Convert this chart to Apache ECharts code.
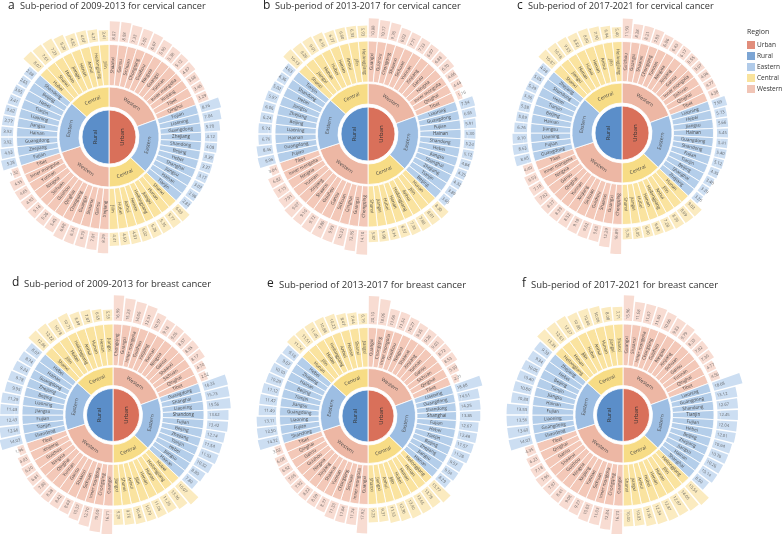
<!DOCTYPE html>
<html><head><meta charset="utf-8">
<style>html,body{margin:0;padding:0;background:#fff}#c{width:784px;height:534px}</style>
<script src="https://cdn.jsdelivr.net/npm/echarts@6/dist/echarts.min.js"></script>
</head><body><div id="c"></div>
<script>
// ---------- data (clockwise from 12 o'clock for urban, from 6 o'clock for rural) ----------
const regionNames = ['Western','Eastern','Central'];
const urbanRegionCounts = [12,11,8];
const ruralRegionCounts = [12,10,8];
const legendNames = ['Urban','Rural','Eastern','Central','Western'];

const aUrbanNames = ['Shaanxi','Gansu','Sichuan','Chongqing','Guizhou','Ningxia','Guangxi','Yunnan','Inner mongolia','Xinjiang','Tibet','Qinghai','Fujian','Liaoning','Guangdong','Zhejiang','Shandong','Beijing','Hebei','Shanghai','Jiangsu','Hainan','Tianjin','Shanxi','Hunan','Jiangxi','Heilongjiang','Henan','Anhui','Hubei','Jilin'];
const aUrbanValues = [8.07,8.03,7.33,7.00,6.67,5.95,5.38,5.12,4.87,3.68,3.46,3.29,8.16,7.04,5.70,4.12,4.08,3.39,3.37,3.17,3.07,2.96,2.83,6.03,5.77,5.35,5.26,5.02,4.81,4.50,4.41];
const aRuralNames = ['Xinjiang','Gansu','Shaanxi','Guangxi','Chongqing','Qinghai','Guizhou','Sichuan','Ningxia','Yunnan','Inner mongolia','Tibet','Fujian','Zhejiang','Guangdong','Hainan','Jiangsu','Liaoning','Tianjin','Hebei','Beijing','Shandong','Hubei','Shanxi','Hunan','Jiangxi','Henan','Anhui','Heilongjiang','Jilin'];
const aRuralValues = [8.29,7.01,6.79,6.74,6.68,5.45,5.26,5.14,4.93,4.65,4.55,1.32,5.28,4.53,3.92,3.92,3.77,3.62,3.41,3.05,2.65,2.88,8.07,7.61,7.23,6.20,4.82,4.67,4.21,3.41];

const bUrbanNames = ['Guangxi','Guizhou','Chongqing','Shaanxi','Sichuan','Yunnan','Xinjiang','Gansu','Ningxia','Inner mongolia','Qinghai','Tibet','Liaoning','Guangdong','Fujian','Hainan','Shandong','Hebei','Jiangsu','Shanghai','Zhejiang','Tianjin','Beijing','Hunan','Jilin','Anhui','Heilongjiang','Henan','Hubei','Jiangxi','Shanxi'];
const bUrbanValues = [10.88,10.17,9.70,8.02,7.71,7.33,6.97,6.88,6.70,4.86,4.44,1.16,7.54,6.85,5.91,5.30,5.24,5.12,4.84,4.35,4.32,3.89,3.65,8.30,8.01,7.88,7.33,6.57,6.14,5.98,5.87];
const bRuralNames = ['Chongqing','Guangxi','Qinghai','Sichuan','Gansu','Guizhou','Shaanxi','Xinjiang','Yunnan','Ningxia','Inner mongolia','Tibet','Fujian','Guangdong','Hainan','Liaoning','Beijing','Zhejiang','Jiangsu','Hebei','Shandong','Tianjin','Shanxi','Jiangxi','Hunan','Hubei','Henan','Anhui','Jilin','Heilongjiang'];
const bRuralValues = [14.10,12.35,10.23,9.95,9.86,9.72,9.10,9.07,7.91,7.15,6.82,3.04,8.96,8.46,6.76,6.74,6.24,6.06,5.97,5.02,4.36,4.63,10.13,9.26,9.01,8.19,6.77,6.60,6.33,5.93];

const cUrbanNames = ['Guizhou','Guangxi','Shaanxi','Chongqing','Yunnan','Ningxia','Xinjiang','Gansu','Inner mongolia','Sichuan','Qinghai','Tibet','Liaoning','Hebei','Jiangsu','Hainan','Guangdong','Shandong','Fujian','Tianjin','Beijing','Shanghai','Zhejiang','Hunan','Jilin','Anhui','Heilongjiang','Henan','Hubei','Jiangxi','Shanxi'];
const cUrbanValues = [11.90,8.28,8.21,7.83,6.86,6.43,6.17,5.55,5.07,4.96,4.77,4.38,7.59,5.73,5.66,5.45,5.41,5.40,5.12,4.35,3.40,3.29,3.26,9.03,8.69,8.36,7.28,6.69,6.30,6.05,5.75];
const cRuralNames = ['Chongqing','Guangxi','Shaanxi','Guizhou','Sichuan','Xinjiang','Yunnan','Qinghai','Gansu','Ningxia','Inner mongolia','Tibet','Guangdong','Fujian','Liaoning','Jiangsu','Hainan','Beijing','Tianjin','Hebei','Shandong','Zhejiang','Shanxi','Jiangxi','Hunan','Hubei','Henan','Anhui','Jilin','Heilongjiang'];
const cRuralValues = [16.89,12.29,9.65,9.62,9.18,8.52,8.39,8.37,7.82,7.18,6.53,4.40,8.65,8.63,8.10,6.76,5.89,5.38,5.36,5.29,5.05,4.98,10.87,10.18,9.55,8.83,8.80,7.90,6.94,5.40];

const dUrbanNames = ['Chongqing','Guangxi','Inner mongolia','Guizhou','Xinjiang','Yunnan','Ningxia','Gansu','Shaanxi','Sichuan','Qinghai','Tibet','Guangdong','Shanghai','Liaoning','Shandong','Fujian','Beijing','Zhejiang','Tianjin','Hebei','Jiangsu','Hainan','Hubei','Heilongjiang','Hunan','Henan','Jilin','Anhui','Shanxi','Jiangxi'];
const dUrbanValues = [16.99,15.23,14.06,13.51,10.57,9.18,9.05,8.57,8.55,8.17,4.70,2.52,16.33,15.73,15.56,13.62,13.42,12.14,11.54,11.53,10.32,8.80,7.80,16.07,13.36,11.26,11.06,10.79,10.48,9.76,9.29];
const dRuralNames = ['Guangxi','Chongqing','Inner mongolia','Sichuan','Shaanxi','Gansu','Yunnan','Qinghai','Ningxia','Guizhou','Xinjiang','Tibet','Shandong','Tianjin','Fujian','Jiangsu','Liaoning','Beijing','Zhejiang','Guangdong','Hainan','Hebei','Shanxi','Jilin','Hubei','Heilongjiang','Anhui','Hunan','Henan','Jiangxi'];
const dRuralValues = [16.71,15.60,12.70,10.37,8.63,8.42,8.28,7.80,6.81,6.20,4.93,1.96,14.03,12.56,12.43,11.43,11.29,9.95,9.78,9.24,8.74,8.07,12.86,12.22,10.78,10.71,8.49,7.87,6.55,5.55];

const eUrbanNames = ['Guangxi','Chongqing','Inner mongolia','Guizhou','Ningxia','Shaanxi','Xinjiang','Yunnan','Gansu','Sichuan','Qinghai','Tibet','Liaoning','Guangdong','Shandong','Shanghai','Fujian','Hebei','Tianjin','Beijing','Zhejiang','Jiangsu','Hainan','Heilongjiang','Henan','Hunan','Hubei','Jilin','Anhui','Jiangxi','Shanxi'];
const eUrbanValues = [20.10,18.06,11.66,11.54,10.27,9.35,9.26,9.03,8.72,8.53,5.50,2.31,18.68,14.51,14.25,13.85,12.67,12.48,11.57,11.28,9.57,9.54,8.29,15.77,13.78,13.65,13.40,12.36,11.53,9.31,9.23];
const eRuralNames = ['Guangxi','Inner mongolia','Sichuan','Chongqing','Yunnan','Shaanxi','Xinjiang','Ningxia','Guizhou','Gansu','Qinghai','Tibet','Shandong','Fujian','Liaoning','Guangdong','Jiangsu','Tianjin','Beijing','Hainan','Zhejiang','Hebei','Hunan','Jilin','Hubei','Heilongjiang','Anhui','Henan','Shanxi','Jiangxi'];
const eRuralValues = [17.92,11.74,11.64,11.33,8.77,8.59,8.22,7.92,7.05,6.92,6.08,3.02,14.32,13.50,13.11,11.49,11.47,11.12,10.29,10.10,9.67,9.18,11.74,11.51,11.45,10.88,10.23,8.47,7.44,6.19];

const fUrbanNames = ['Guangxi','Shaanxi','Inner mongolia','Chongqing','Guizhou','Ningxia','Xinjiang','Sichuan','Gansu','Yunnan','Qinghai','Tibet','Liaoning','Guangdong','Shandong','Tianjin','Fujian','Hebei','Beijing','Zhejiang','Jiangsu','Hainan','Shanghai','Heilongjiang','Jilin','Hunan','Henan','Hubei','Anhui','Jiangxi','Shanxi'];
const fUrbanValues = [15.96,11.68,11.67,11.65,10.66,9.83,9.79,8.33,7.82,7.30,4.77,4.56,18.68,13.12,12.67,12.45,12.04,12.01,10.94,10.76,10.26,10.14,8.50,15.54,14.05,12.97,12.87,12.34,11.65,10.03,10.00];
const fRuralNames = ['Guangxi','Chongqing','Inner mongolia','Sichuan','Yunnan','Xinjiang','Ningxia','Guizhou','Shaanxi','Gansu','Qinghai','Tibet','Shandong','Guangdong','Liaoning','Fujian','Hainan','Jiangsu','Tianjin','Beijing','Hebei','Zhejiang','Heilongjiang','Henan','Jilin','Hubei','Anhui','Hunan','Jiangxi','Shanxi'];
const fRuralValues = [16.73,12.84,11.03,10.83,9.27,9.08,8.41,7.97,7.96,7.18,6.23,4.35,14.03,13.60,13.56,13.55,10.88,10.80,10.40,10.05,9.34,9.33,13.39,12.63,12.37,10.98,10.80,10.06,8.08,7.71];

const panelLetters = ['a','b','c','d','e','f'];
const panelTitles = ['Sub-period of 2009-2013 for cervical cancer','Sub-period of 2013-2017 for cervical cancer','Sub-period of 2017-2021 for cervical cancer','Sub-period of 2009-2013 for breast cancer','Sub-period of 2013-2017 for breast cancer','Sub-period of 2017-2021 for breast cancer'];

// ---------- layout and style ----------
const FONT = '"Open Sans", "Noto Sans", sans-serif';
const panels = [
 {un:aUrbanNames,uv:aUrbanValues,rn:aRuralNames,rv:aRuralValues,cx:109,cy:137,rA:27,rB:30,rC:50,rD:51.5,rE:92.5,rF:96,s:1.9,k:4.5,lx:8,tx:20,ty:6,fs:9.2},
 {un:bUrbanNames,uv:bUrbanValues,rn:bRuralNames,rv:bRuralValues,cx:368,cy:134,rA:27,rB:30,rC:50.5,rD:52,rE:93,rF:96.5,s:1.5,k:3,lx:263,tx:275,ty:6,fs:9.2},
 {un:cUrbanNames,uv:cUrbanValues,rn:cRuralNames,rv:cRuralValues,cx:622,cy:133,rA:27,rB:30,rC:50,rD:51.5,rE:91.5,rF:95,s:1.3,k:4,lx:517,tx:528,ty:6,fs:9.2},
 {un:dUrbanNames,uv:dUrbanValues,rn:dRuralNames,rv:dRuralValues,cx:113,cy:415,rA:26.5,rB:29.5,rC:48,rD:49.5,rE:91,rF:94.5,s:1.25,k:4,lx:12,tx:24,ty:283,fs:9.5},
 {un:eUrbanNames,uv:eUrbanValues,rn:eRuralNames,rv:eRuralValues,cx:368,cy:416,rA:26,rB:29,rC:47.5,rD:49,rE:88.5,rF:92,s:1.25,k:3,lx:267,tx:279,ty:284,fs:9.5},
 {un:fUrbanNames,uv:fUrbanValues,rn:fRuralNames,rv:fRuralValues,cx:623,cy:415,rA:26.5,rB:29.5,rC:48,rD:49.5,rE:91,rF:94.5,s:1.4,k:3,lx:522,tx:531,ty:284,fs:9.5}
];
const MAXV = 24;
const TXT = '#4a4a4a';
const halfColors = {Urban:'#D9705A',Rural:'#5B8EC9'};
const regionColors = {Western:'#EDB7A4',Eastern:'#9DBEE3',Central:'#F7DC85'};
const tileColors = {Western:'#F3C8B8',Eastern:'#B4CEEA',Central:'#FAE39F'};
const barColors = {Western:'#F8DCD2',Eastern:'#CCDEF2',Central:'#FBEBC0'};
const legendColors = {Urban:'#D9705A',Rural:'#5B8EC9',Eastern:'#9DBEE3',Central:'#F7DC85',Western:'#EDB7A4'};

function regionOf(i, counts){
  let acc = 0;
  for (let k = 0; k < counts.length; k++){ acc += counts[k]; if (i < acc) return regionNames[k]; }
}
function half(name, names, counts){
  const w = 1/names.length; let start = 0;
  return {name, itemStyle:{color:halfColors[name]}, children: regionNames.map((reg,k)=>{
    const kids = names.slice(start,start+counts[k]).map(n=>({name:n,value:w,itemStyle:{color:tileColors[reg]}}));
    start += counts[k];
    return {name:reg,itemStyle:{color:regionColors[reg]},children:kids};
  })};
}

const title=[], polar=[], angleAxis=[], radiusAxis=[], series=[];
title.push({text:'Region',left:747,top:28,padding:0,textStyle:{fontFamily:FONT,fontSize:7,fontWeight:'normal',color:'#333'}});
panels.forEach((p,pi)=>{
  title.push({text:panelLetters[pi],left:p.lx,top:p.ty-6,padding:0,textStyle:{fontFamily:FONT,fontSize:12,fontWeight:'normal',color:'#222'}});
  title.push({text:panelTitles[pi],left:p.tx,top:p.ty-4,padding:0,textStyle:{fontFamily:FONT,fontSize:p.fs,fontWeight:'normal',color:'#333'}});
  series.push({type:'sunburst',center:[p.cx,p.cy],radius:[0,p.rE],sort:null,startAngle:90,nodeClick:false,silent:true,
    itemStyle:{borderColor:'#fff',borderWidth:0.8},
    emphasis:{disabled:true},
    levels:[{},
      {radius:[0,p.rA],itemStyle:{borderWidth:0.8},label:{rotate:90,fontSize:6,color:'#333',fontFamily:FONT}},
      {radius:[p.rB,p.rC],itemStyle:{borderWidth:0.8},label:{rotate:'tangential',fontSize:5,color:TXT,fontFamily:FONT}},
      {radius:[p.rD,p.rE],itemStyle:{borderWidth:0.8},label:{rotate:'radial',fontSize:4.5,color:TXT,fontFamily:FONT}}],
    data:[half('Urban',p.un,urbanRegionCounts),half('Rural',p.rn,ruralRegionCounts)]});
  [['Urban',p.un,p.uv,urbanRegionCounts,90,-90],['Rural',p.rn,p.rv,ruralRegionCounts,-90,-270]].forEach(([hname,names,vals,counts,sa,ea])=>{
    const idx = polar.length, n = names.length;
    polar.push({center:[p.cx,p.cy],radius:[p.rF,p.rF+MAXV*p.s]});
    angleAxis.push({polarIndex:idx,type:'category',data:names.map((x,i)=>hname+i+x),startAngle:sa,endAngle:ea,clockwise:true,show:false,boundaryGap:true});
    radiusAxis.push({polarIndex:idx,type:'value',min:0,max:MAXV,show:false});
    const stack = 'st'+idx;
    series.push({type:'bar',coordinateSystem:'polar',polarIndex:idx,stack,barCategoryGap:'14%',silent:true,
      itemStyle:{color:'#fff'},data:vals.map((_,i)=>({value:p.k/p.s,itemStyle:{color:barColors[regionOf(i,counts)]}}))});
    series.push({type:'bar',coordinateSystem:'polar',polarIndex:idx,stack,barCategoryGap:'14%',silent:true,
      data:vals.map((v,i)=>({value:v,itemStyle:{color:barColors[regionOf(i,counts)]}}))});
    series.push({type:'scatter',coordinateSystem:'polar',polarIndex:idx,symbolSize:0,silent:true,z:5,
      data:vals.map((v,i)=>{
        const th = sa-(i+0.5)*180/n;
        const right = hname==='Urban';
        return {value:[1.5/p.s,i],label:{show:true,position:'inside',formatter:v.toFixed(2),
          rotate:right?th:th+180,align:right?'left':'right',verticalAlign:'middle',
          fontSize:4.2,color:TXT,fontFamily:FONT}};
      })});
  });
});
legendNames.forEach(n=>series.push({type:'scatter',coordinateSystem:'polar',polarIndex:0,name:n,data:[],itemStyle:{color:legendColors[n]}}));

const chart = echarts.init(document.getElementById('c'),null,{renderer:'canvas'});
chart.setOption({animation:false,backgroundColor:'#fff',title,polar,angleAxis,radiusAxis,series,
  legend:{data:legendNames,left:747,top:41,orient:'vertical',icon:'rect',itemWidth:8,itemHeight:8,itemGap:3,padding:0,selectedMode:false,
    textStyle:{fontFamily:FONT,fontSize:6.5,color:'#333',padding:[0,0,0,-3]}},tooltip:{show:false}});
</script></body></html>
